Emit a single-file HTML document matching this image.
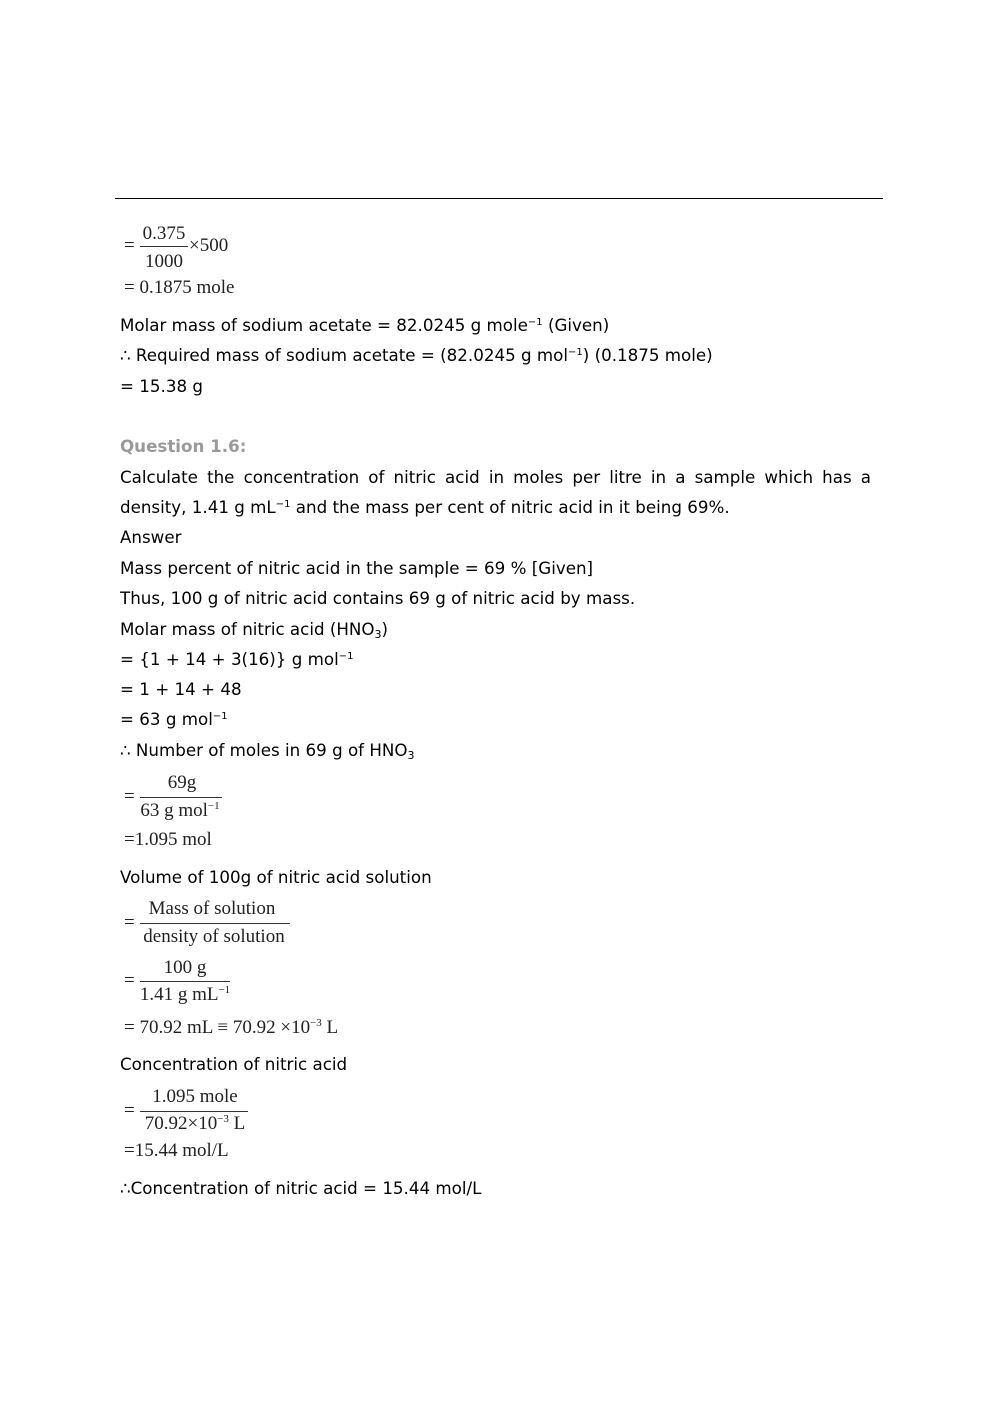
<!DOCTYPE html>
<html><head><meta charset="utf-8"><style>
body{margin:0;width:992px;height:1403px;background:#fff;position:relative;overflow:hidden}
.t{position:absolute;left:120px;font-family:"DejaVu Sans","Liberation Sans",sans-serif;font-size:16.7px;line-height:20px;white-space:nowrap;color:#000}
.m{position:absolute;font-family:"Liberation Serif",serif;font-size:19px;line-height:20px;white-space:nowrap;color:#222}
.c{transform:translateX(-50%)}
.ln{position:absolute;height:1px;background:#333}
sup{font-size:10px;vertical-align:6px;line-height:0}
sub{font-size:11px;vertical-align:-3px;line-height:0}
.ms{font-size:11px;vertical-align:7px;line-height:0}
.j{width:751px;white-space:normal;text-align:justify;text-align-last:justify}
</style></head><body>
<div class="ln" style="left:115px;width:768px;top:198px;background:#000"></div>

<div class="m" style="left:124px;top:236px">=</div>
<div class="m c" style="left:164px;top:224px">0.375</div>
<div class="ln" style="left:140px;width:48px;top:246px"></div>
<div class="m c" style="left:164px;top:252px">1000</div>
<div class="m" style="left:189px;top:236px">×500</div>
<div class="m" style="left:124px;top:278px">= 0.1875 mole</div>

<div class="t" style="top:315px">Molar mass of sodium acetate = 82.0245 g mole<sup>−1</sup> (Given)</div>
<div class="t" style="top:345px">∴ Required mass of sodium acetate = (82.0245 g mol<sup>−1</sup>) (0.1875 mole)</div>
<div class="t" style="top:376px">= 15.38 g</div>
<div class="t" style="top:436px;color:#9a9a9a;font-weight:bold">Question 1.6:</div>
<div class="t j" style="top:467px">Calculate the concentration of nitric acid in moles per litre in a sample which has a</div>
<div class="t" style="top:497px">density, 1.41 g mL<sup>−1</sup> and the mass per cent of nitric acid in it being 69%.</div>
<div class="t" style="top:527px">Answer</div>
<div class="t" style="top:558px">Mass percent of nitric acid in the sample = 69 % [Given]</div>
<div class="t" style="top:588px">Thus, 100 g of nitric acid contains 69 g of nitric acid by mass.</div>
<div class="t" style="top:619px">Molar mass of nitric acid (HNO<sub>3</sub>)</div>
<div class="t" style="top:649px">= {1 + 14 + 3(16)} g mol<sup>−1</sup></div>
<div class="t" style="top:679px">= 1 + 14 + 48</div>
<div class="t" style="top:709px">= 63 g mol<sup>−1</sup></div>
<div class="t" style="top:740px">∴ Number of moles in 69 g of HNO<sub>3</sub></div>

<div class="m" style="left:124px;top:787px">=</div>
<div class="m c" style="left:182px;top:773px">69g</div>
<div class="ln" style="left:140px;width:82px;top:797px"></div>
<div class="m c" style="left:180px;top:801px">63 g mol<span class="ms">−1</span></div>
<div class="m" style="left:124px;top:830px">=1.095 mol</div>

<div class="t" style="top:867px">Volume of 100g of nitric acid solution</div>

<div class="m" style="left:124px;top:913px">=</div>
<div class="m c" style="left:212px;top:899px">Mass of solution</div>
<div class="ln" style="left:140px;width:150px;top:923px"></div>
<div class="m c" style="left:214px;top:927px">density of solution</div>

<div class="m" style="left:124px;top:971px">=</div>
<div class="m c" style="left:185px;top:958px">100 g</div>
<div class="ln" style="left:140px;width:90px;top:981px"></div>
<div class="m c" style="left:185px;top:985px">1.41 g mL<span class="ms">−1</span></div>
<div class="m" style="left:124px;top:1018px">= 70.92 mL ≡ 70.92 ×10<span class="ms">−3</span> L</div>

<div class="t" style="top:1054px">Concentration of nitric acid</div>

<div class="m" style="left:124px;top:1101px">=</div>
<div class="m c" style="left:195px;top:1087px">1.095 mole</div>
<div class="ln" style="left:140px;width:108px;top:1111px"></div>
<div class="m c" style="left:195px;top:1114px">70.92×10<span class="ms">−3</span> L</div>
<div class="m" style="left:124px;top:1141px">=15.44 mol/L</div>

<div class="t" style="top:1178px">∴Concentration of nitric acid = 15.44 mol/L</div>
</body></html>
